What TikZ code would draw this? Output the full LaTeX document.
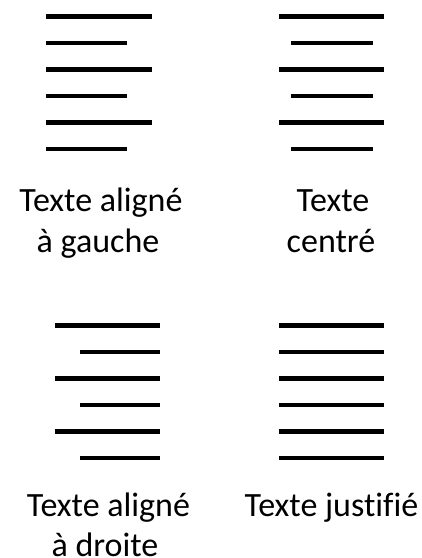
\documentclass[tikz,border=0pt]{standalone}
\usepackage{fontspec}
\setmainfont{Carlito}[Ligatures=CommonOff]
\usepackage{tikz}

\begin{document}
\begin{tikzpicture}[x=1pt, y=-1pt, line cap=butt,
  bar/.style={line width=4.5pt},
  caption/.style={anchor=base, inner sep=0pt, font=\fontsize{34}{41}\selectfont}]

  %% ════ aligné à gauche ════
  \draw[bar] (46,16.5)  -- (152,16.5);
  \draw[bar] (46,43.0)  -- (127,43.0);
  \draw[bar] (46,69.5)  -- (152,69.5);
  \draw[bar] (46,96.0)  -- (127,96.0);
  \draw[bar] (46,122.5) -- (152,122.5);
  \draw[bar] (46,149.0) -- (127,149.0);

  %% ════ centré ════
  \draw[bar] (279,16.5)  -- (384,16.5);
  \draw[bar] (291,43.0)  -- (373,43.0);
  \draw[bar] (279,69.5)  -- (384,69.5);
  \draw[bar] (291,96.0)  -- (373,96.0);
  \draw[bar] (279,122.5) -- (384,122.5);
  \draw[bar] (291,149.0) -- (373,149.0);

  %% ════ aligné à droite ════
  \draw[bar] (55,325.5) -- (160,325.5);
  \draw[bar] (80,352.0) -- (160,352.0);
  \draw[bar] (55,378.5) -- (160,378.5);
  \draw[bar] (80,405.0) -- (160,405.0);
  \draw[bar] (55,431.5) -- (160,431.5);
  \draw[bar] (80,458.0) -- (160,458.0);

  %% ════ justifié ════
  \foreach \y in {325.5,352.0,378.5,405.0,431.5,458.0}
    \draw[bar] (279,\y) -- (384,\y);

  %% ════ légendes ════
  \node[caption] (gauche1) at (101,211) {Texte aligné};
  \node[caption] (gauche2) at (98,252)  {à gauche};
  \node[caption] (centre1) at (333,211) {Texte};
  \node[caption] (centre2) at (331,252) {centré};
  \node[caption] (droite1) at (108.5,516) {Texte aligné};
  \node[caption] (droite2) at (105,556)   {à droite};
  \node[caption] (justif)  at (331.5,516) {Texte justifié};

  % canvas fixe
  \pgfresetboundingbox
  \path[use as bounding box] (0,0) rectangle (422,558);
\end{tikzpicture}
\end{document}
